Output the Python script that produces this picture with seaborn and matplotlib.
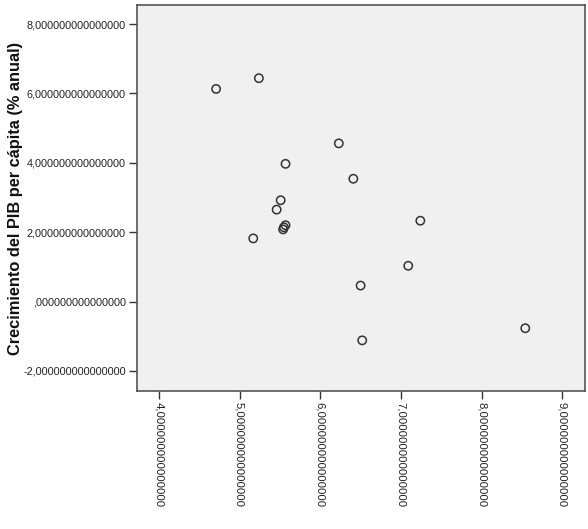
import matplotlib
matplotlib.use("Agg")
import matplotlib.pyplot as plt
import seaborn as sns
import pandas as pd

# Valores
gasto = [4.71, 5.24, 6.23, 5.57, 6.41, 5.51, 5.46, 5.57, 5.54, 5.55,
         5.17, 6.50, 6.52, 7.24, 7.09, 8.54]
crecimiento = [6.13, 6.44, 4.56, 3.97, 3.54, 2.92, 2.65, 2.20, 2.08, 2.14,
               1.82, 0.46, -1.12, 2.33, 1.03, -0.77]
x_ticks = [4, 5, 6, 7, 8, 9]
y_ticks = [-2, 0, 2, 4, 6, 8]

df = pd.DataFrame({"x": gasto, "y": crecimiento})


def spss_fmt(v):
    s = f"{v:.15f}".replace(".", ",")
    if s.startswith("0,"):
        s = s[1:]
    return s


sns.set_style("white")
plt.rcParams["font.family"] = ["Liberation Sans", "DejaVu Sans"]

fig = plt.figure(figsize=(5.88, 5.29), dpi=100)
ax = fig.add_axes([137 / 588, 1 - 391 / 529, (585 - 137) / 588, (391 - 5) / 529])
ax.set_facecolor("#f0f0f0")

sns.scatterplot(data=df, x="x", y="y", ax=ax, marker="o", s=36,
                facecolors="none", edgecolor="#333333", linewidth=1.1)

ax.set_xlim(3.73, 9.28)
ax.set_ylim(-2.58, 8.55)
ax.set_xticks(x_ticks)
ax.set_yticks(y_ticks)
ax.set_xticklabels([spss_fmt(v) for v in x_ticks], rotation=270, fontsize=8.2,
                   color="#222222")
ax.set_yticklabels([spss_fmt(v) for v in y_ticks], fontsize=7.8, color="#222222")
ax.tick_params(axis="both", direction="out", length=6, width=1, color="#333333",
               bottom=True, left=True, pad=2)
for sp in ax.spines.values():
    sp.set_color("#555555")
    sp.set_linewidth(1.2)

ax.set_xlabel("")
ax.set_ylabel("Crecimiento del PIB per cápita (% anual)", fontsize=11.8,
              fontweight="bold", color="#111111")
ax.yaxis.set_label_coords(-0.255, 0.5)

fig.savefig("out.png", dpi=100)
